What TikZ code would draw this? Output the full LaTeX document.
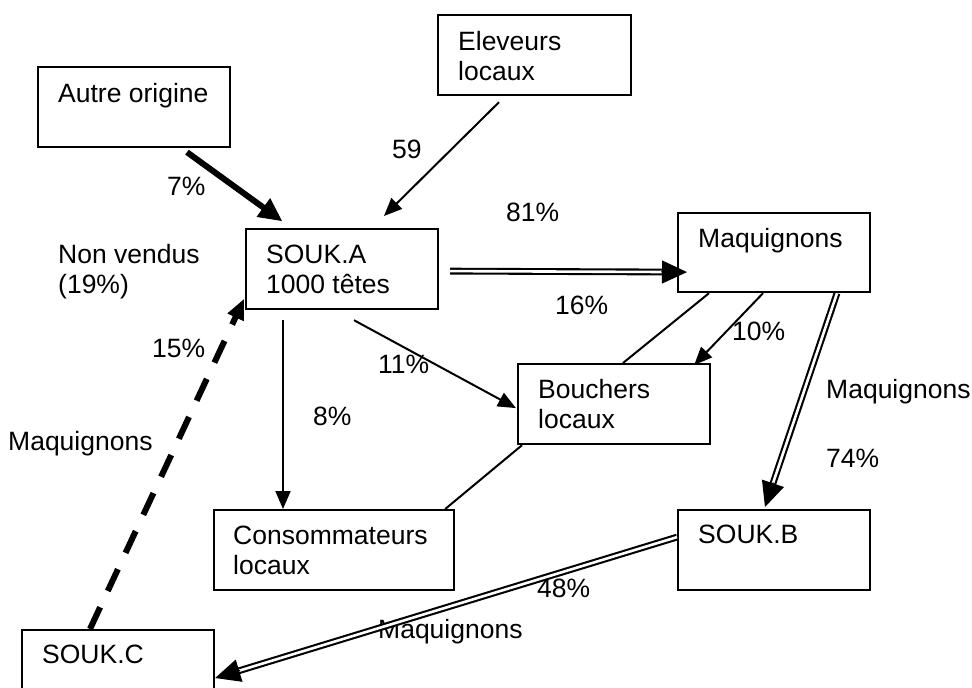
\documentclass[tikz,border=0pt]{standalone}
\usepackage{fontspec}
\setmainfont{Liberation Sans}
\usetikzlibrary{arrows.meta,calc}
\begin{document}
\begin{tikzpicture}[x=1pt,y=-1pt,
  box/.style={draw, line width=2.2pt, inner sep=0pt, anchor=north west, minimum width=192pt, minimum height=80pt},
  txt/.style={inner sep=0pt, anchor=base west, font=\fontsize{26.5}{30}\selectfont},
  thinline/.style={line width=2pt},
  thintip/.style={line width=2pt, -{Triangle[length=18pt,width=15pt]}},
  dbl/.style={double, double distance=2.6pt, line width=2.1pt, shorten >=20pt},
  bighead/.style={line width=1pt, -{Triangle[length=25pt,width=23pt]}},
]
\useasboundingbox (0,0) rectangle (972,688);
\fill[white] (0,0) rectangle (972,688);
\clip (0,0) rectangle (972,688);

% boxes
\node[box] (autre) at (37,66) {};
\node[box, minimum width=193pt] (elev) at (437,14) {};
\node[box] (souka) at (245,228) {};
\node[box, minimum height=79pt] (maq) at (677,212) {};
\node[box] (bouch) at (517,363) {};
\node[box, minimum width=240pt] (conso) at (213,509) {};
\node[box] (soukb) at (677,509) {};
\node[box] (soukc) at (21,629) {};

% box texts
\node[txt] (tautre) at (58,102) {Autre origine};
\node[txt] (telev1) at (458,50) {Eleveurs};
\node[txt] (telev2) at (458,80) {locaux};
\node[txt] (tsouka1) at (266,263) {SOUK.A};
\node[txt] (tsouka2) at (266,293) {1000 têtes};
\node[txt] (tmaq) at (698,247) {Maquignons};
\node[txt] (tbouch1) at (538,398) {Bouchers};
\node[txt] (tbouch2) at (538,428) {locaux};
\node[txt] (tconso1) at (233,544) {Consommateurs};
\node[txt] (tconso2) at (233,574) {locaux};
\node[txt] (tsoukb) at (698,543) {SOUK.B};
\node[txt] (tsoukc) at (42,663) {SOUK.C};

% free labels
\node[txt] (l59) at (392,158) {59};
\node[txt] (l7) at (167,195) {7\%};
\node[txt] (l81) at (506,221) {81\%};
\node[txt] (lnv1) at (58,263) {Non vendus};
\node[txt] (lnv2) at (58,293) {(19\%)};
\node[txt] (l15) at (152,357) {15\%};
\node[txt] (lmaqL) at (8,450) {Maquignons};
\node[txt] (l16) at (555,314) {16\%};
\node[txt] (l11) at (378,373) {11\%};
\node[txt] (l8) at (313,425) {8\%};
\node[txt] (l10) at (732,340) {10\%};
\node[txt] (lmaqR) at (826,398) {Maquignons};
\node[txt] (l74) at (826,467) {74\%};
\node[txt] (l48) at (537,597) {48\%};
\node[txt] (lmaqB) at (378,638) {Maquignons};

% connector end points
\coordinate (thS) at ($(autre.south west)+(150,4)$);
\coordinate (thE) at ($(souka.north west)+(37,-7)$);
\coordinate (elS) at ($(elev.south west)+(62,6)$);
\coordinate (elE) at ($(souka.north west)+(139,-12)$);
\coordinate (amS) at ($(souka.east)+(11,2)$);
\coordinate (amE) at ($(maq.west)+(10,19.5)$);
\coordinate (acS) at ($(souka.south west)+(38,10)$);
\coordinate (acE) at ($(conso.north west)+(70,0)$);
\coordinate (abS) at ($(souka.south west)+(109,10)$);
\coordinate (abE) at ($(bouch.west)+(-1,4)$);
\coordinate (mbS) at ($(maq.south west)+(86,0)$);
\coordinate (mbE) at ($(bouch.north east)+(-17,2)$);
\coordinate (p1S) at ($(maq.south west)+(32,0)$);
\coordinate (p1E) at ($(bouch.north west)+(106,0)$);
\coordinate (p2S) at ($(bouch.south west)+(5,0)$);
\coordinate (p2E) at ($(conso.north east)+(-10,0)$);
\coordinate (msS) at ($(maq.south west)+(160,0)$);
\coordinate (msE) at ($(soukb.north west)+(88,-2)$);
\coordinate (scS) at ($(soukb.west)+(0,-13)$);
\coordinate (scE) at ($(soukc.north east)+(0,49)$);
\coordinate (daS) at ($(soukc.north west)+(69,0)$);
\coordinate (daE) at ($(souka.south west)+(-1,-11)$);

% thick arrow from Autre origine
\draw[line width=6pt, shorten >=16pt] (thS) -- (thE);
\draw[line width=1pt, -{Triangle[length=23pt,width=23pt]}] ($(thE)!24pt!(thS)$) -- (thE);

% thin arrows
\draw[thintip] (elS) -- (elE);
\draw[thintip] (acS) -- (acE);
\draw[thintip] (abS) -- (abE);
\draw[thintip] (mbS) -- (mbE);

% plain lines
\draw[thinline] (p1S) -- (p1E);
\draw[thinline] (p2S) -- (p2E);

% double arrows
\draw[dbl] (amS) -- (amE);
\draw[bighead] ($(amE)!26pt!(amS)$) -- (amE);
\draw[dbl] (msS) -- (msE);
\draw[bighead] ($(msE)!26pt!(msS)$) -- (msE);
\draw[dbl] (scS) -- (scE);
\draw[bighead] ($(scE)!26pt!(scS)$) -- (scE);

% dashed arrow
\draw[line width=6pt, dash pattern=on 24pt off 18pt, shorten >=14pt] (daS) -- (daE);
\draw[line width=1pt, -{Triangle[length=20pt,width=18pt]}] ($(daE)!21pt!(daS)$) -- (daE);
\end{tikzpicture}
\end{document}
